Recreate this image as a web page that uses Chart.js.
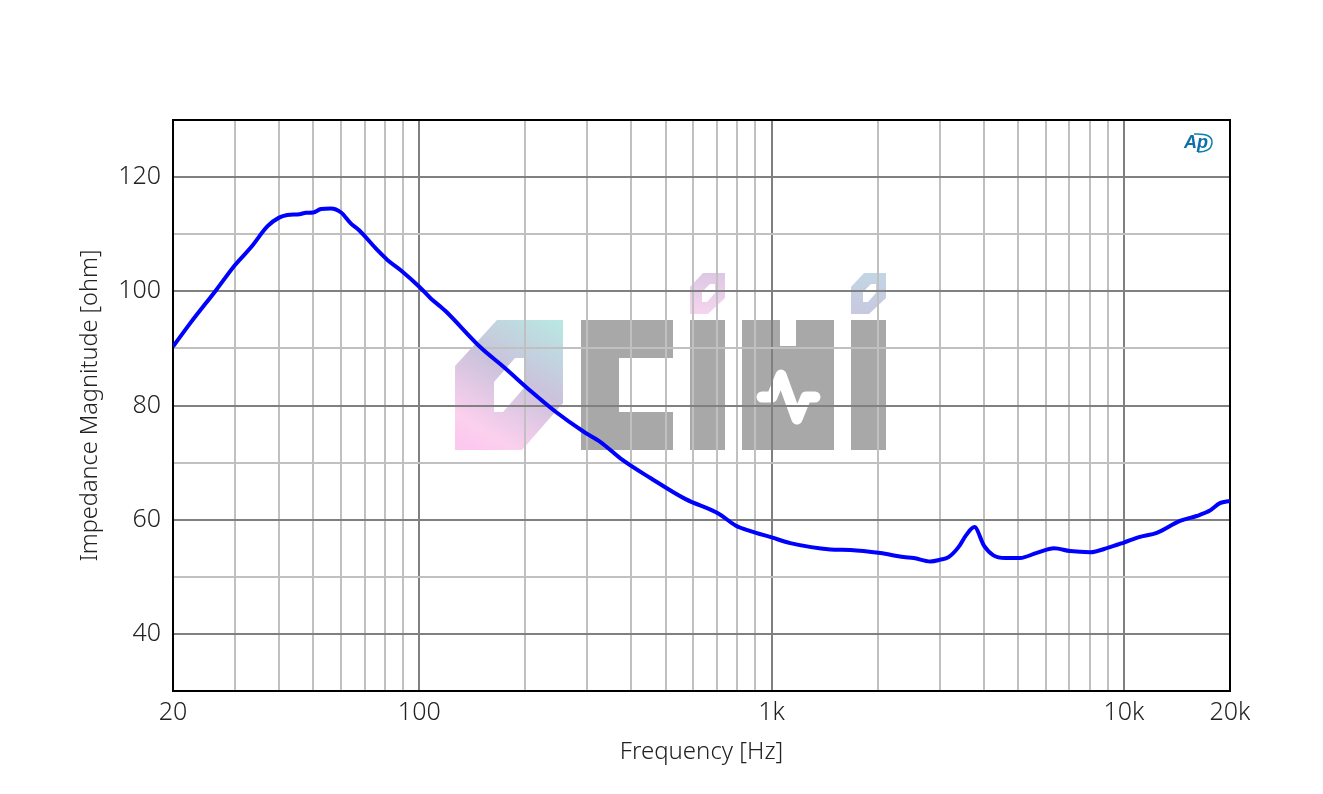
<!DOCTYPE html>
<html lang="en">
<head>
    <meta charset="UTF-8">
    <title>Impedance Magnitude</title>
    <script src="https://cdn.jsdelivr.net/npm/chart.js"></script>
    <style>
        html, body { margin: 0; background: #fff; }
        #wrap { width: 1323px; height: 794px; }
    </style>
</head>
<body>
    <div id="wrap"><canvas id="chart" width="1323" height="794"></canvas></div>
    <script>
        // curve
        const freqs = [20, 22.5, 26.5, 30, 33.3, 37.1, 40, 42.2, 45.7, 47.7, 50, 52.6, 56.1, 60, 63.9, 67.5, 76.1, 81.2, 88.6, 100,
            107.8, 115, 118.9, 149.4, 174, 207, 243.8, 293, 327, 373, 453, 570, 706, 790, 871, 1000, 1130, 1469, 1673,
            2035, 2370, 2530, 2820, 3010, 3178, 3392, 3566, 3764, 4010, 4262, 4604, 5072, 5660, 6334, 7032, 8014, 9032,
            10000, 11106, 12390, 14420, 16080, 17540, 18720, 20000];
        const impedance = [90.3, 94.6, 100.2, 104.6, 107.7, 111.4, 112.9, 113.35, 113.5, 113.75, 113.8, 114.4, 114.5, 113.8, 111.9, 110.7, 107.2, 105.5, 103.7, 100.8,
            98.75, 97.3, 96.5, 90.15, 86.7, 82.55, 78.9, 75.4, 73.6, 70.7, 67.3, 63.6, 61.1, 59.0, 58.0, 56.9, 55.9, 54.8, 54.7,
            54.15, 53.45, 53.3, 52.7, 53.0, 53.45, 55.2, 57.3, 58.7, 55.4, 53.75, 53.3, 53.3, 54.2, 55.0, 54.5, 54.3, 55.1,
            56.0, 57.0, 57.7, 59.8, 60.65, 61.6, 62.9, 63.3];

        const xGridValues = [20, 30, 40, 50, 60, 70, 80, 90, 100, 200, 300, 400, 500, 600, 700, 800, 900, 1000,
            2000, 3000, 4000, 5000, 6000, 7000, 8000, 9000, 10000, 20000];
        const xMajorValues = [100, 1000, 10000];
        const xLabelValues = [20, 100, 1000, 10000, 20000];
        const xLabelText = ['20', '100', '1k', '10k', '20k'];
        const yLabelValues = [40, 60, 80, 100, 120];

        const fontName = '"Noto Sans", sans-serif';
        const textColor = '#222';

        function poly(ctx, pts) {
            ctx.moveTo(pts[0][0], pts[0][1]);
            pts.slice(1).forEach(p => ctx.lineTo(p[0], p[1]));
            ctx.closePath();
        }

        // watermark sits under the grid
        const watermark = {
            id: 'watermark',
            beforeDraw(chart) {
                const ctx = chart.ctx;
                ctx.save();
                // first letter, gradient with a hole
                const g = ctx.createLinearGradient(560, 320, 480, 455);
                g.addColorStop(0, '#b8e8e2');
                g.addColorStop(0.45, '#cbc2dc');
                g.addColorStop(0.85, '#fbd0ee');
                g.addColorStop(1, '#fcc8ee');
                ctx.fillStyle = g;
                ctx.beginPath();
                poly(ctx, [[455, 366], [497, 320], [563, 320], [563, 403], [522, 450], [455, 450]]);
                poly(ctx, [[494, 382], [515, 358], [524, 358], [524, 388], [503, 412], [494, 412]]);
                ctx.fill('evenodd');
                // gray block letters
                ctx.fillStyle = '#a8a8a8';
                ctx.beginPath();
                poly(ctx, [[581, 320], [673, 320], [673, 358], [619, 358], [619, 412], [673, 412], [673, 450], [581, 450]]);
                ctx.rect(690, 320, 35, 130);
                poly(ctx, [[742, 320], [780, 320], [780, 346], [796, 346], [796, 320], [834, 320], [834, 450], [742, 450]]);
                ctx.rect(851, 320, 35, 130);
                ctx.fill();
                // dots on the i
                [[0, '#dcc8e4', '#f6d4ee'], [161, '#c2d6e4', '#c8c8e0']].forEach(d => {
                    const dg = ctx.createLinearGradient(0, 273, 0, 314);
                    dg.addColorStop(0, d[1]);
                    dg.addColorStop(1, d[2]);
                    ctx.fillStyle = dg;
                    ctx.beginPath();
                    poly(ctx, [[690, 287], [703, 273], [725, 273], [725, 298], [708, 314], [690, 314]].map(p => [p[0] + d[0], p[1]]));
                    poly(ctx, [[702, 292], [710, 284], [715, 284], [715, 293], [707, 302], [702, 302]].map(p => [p[0] + d[0], p[1]]));
                    ctx.fill('evenodd');
                });
                // pulse
                ctx.strokeStyle = '#fff';
                ctx.lineWidth = 11;
                ctx.lineCap = 'round';
                ctx.lineJoin = 'round';
                ctx.beginPath();
                ctx.moveTo(762, 397);
                ctx.lineTo(772, 397);
                ctx.lineTo(781, 375);
                ctx.lineTo(797, 419);
                ctx.lineTo(806, 397);
                ctx.lineTo(815, 397);
                ctx.stroke();
                ctx.restore();
            }
        };

        // plot frame and the AP mark
        const frame = {
            id: 'frame',
            beforeDatasetsDraw(chart) {
                const a = chart.chartArea, ctx = chart.ctx;
                ctx.save();
                ctx.strokeStyle = '#000';
                ctx.lineWidth = 2;
                ctx.strokeRect(a.left, a.top, a.right - a.left, a.bottom - a.top);
                ctx.fillStyle = '#0f6fa8';
                ctx.font = 'italic bold 18px "Liberation Sans", sans-serif';
                ctx.textBaseline = 'middle';
                ctx.fillText('Ap', 1184, 143);
                ctx.strokeStyle = '#0f7fb0';
                ctx.lineWidth = 1.5;
                ctx.beginPath();
                ctx.moveTo(1194, 134);
                ctx.quadraticCurveTo(1213, 133, 1212, 143);
                ctx.quadraticCurveTo(1211, 152, 1198, 152);
                ctx.stroke();
                ctx.restore();
            }
        };

        new Chart(document.getElementById('chart'), {
            type: 'line',
            data: {
                datasets: [{
                    data: freqs.map((f, i) => ({ x: f, y: impedance[i] })),
                    borderColor: '#0000ff',
                    borderWidth: 4,
                    pointRadius: 0,
                    cubicInterpolationMode: 'monotone',
                    fill: false
                }]
            },
            plugins: [watermark, frame],
            options: {
                responsive: false,
                animation: false,
                layout: { padding: { left: 73, top: 120, right: 93, bottom: 27 } },
                plugins: { legend: { display: false }, tooltip: { enabled: false } },
                scales: {
                    x: {
                        type: 'logarithmic',
                        min: 20,
                        max: 20000,
                        afterBuildTicks: s => { s.ticks = xGridValues.map(v => ({ value: v })); },
                        afterFit: s => { s.height = 76; },
                        border: { display: false },
                        grid: {
                            drawTicks: false,
                            lineWidth: 2,
                            color: c => xMajorValues.includes(c.tick.value) ? '#808080' : '#c0c0c0'
                        },
                        ticks: {
                            autoSkip: false,
                            maxRotation: 0,
                            padding: 7,
                            color: textColor,
                            font: { family: fontName, size: 25, weight: 300 },
                            callback: v => {
                                const i = xLabelValues.indexOf(v);
                                return i < 0 ? '' : xLabelText[i];
                            }
                        },
                        title: {
                            display: true,
                            text: 'Frequency [Hz]',
                            color: textColor,
                            padding: { top: 5, bottom: 0 },
                            font: { family: fontName, size: 24, weight: 300 }
                        }
                    },
                    y: {
                        min: 30,
                        max: 130,
                        afterFit: s => { s.width = 100; },
                        border: { display: false },
                        grid: {
                            drawTicks: false,
                            lineWidth: 2,
                            color: c => yLabelValues.includes(c.tick.value) ? '#808080' : '#c0c0c0'
                        },
                        ticks: {
                            stepSize: 10,
                            autoSkip: false,
                            padding: 12,
                            color: textColor,
                            font: { family: fontName, size: 25, weight: 300 },
                            callback: v => yLabelValues.includes(v) ? String(v) : ''
                        },
                        title: {
                            display: true,
                            text: 'Impedance Magnitude [ohm]',
                            color: textColor,
                            padding: { top: 3, bottom: 0 },
                            font: { family: fontName, size: 23.5, weight: 300 }
                        }
                    }
                }
            }
        });
    </script>
</body>
</html>
